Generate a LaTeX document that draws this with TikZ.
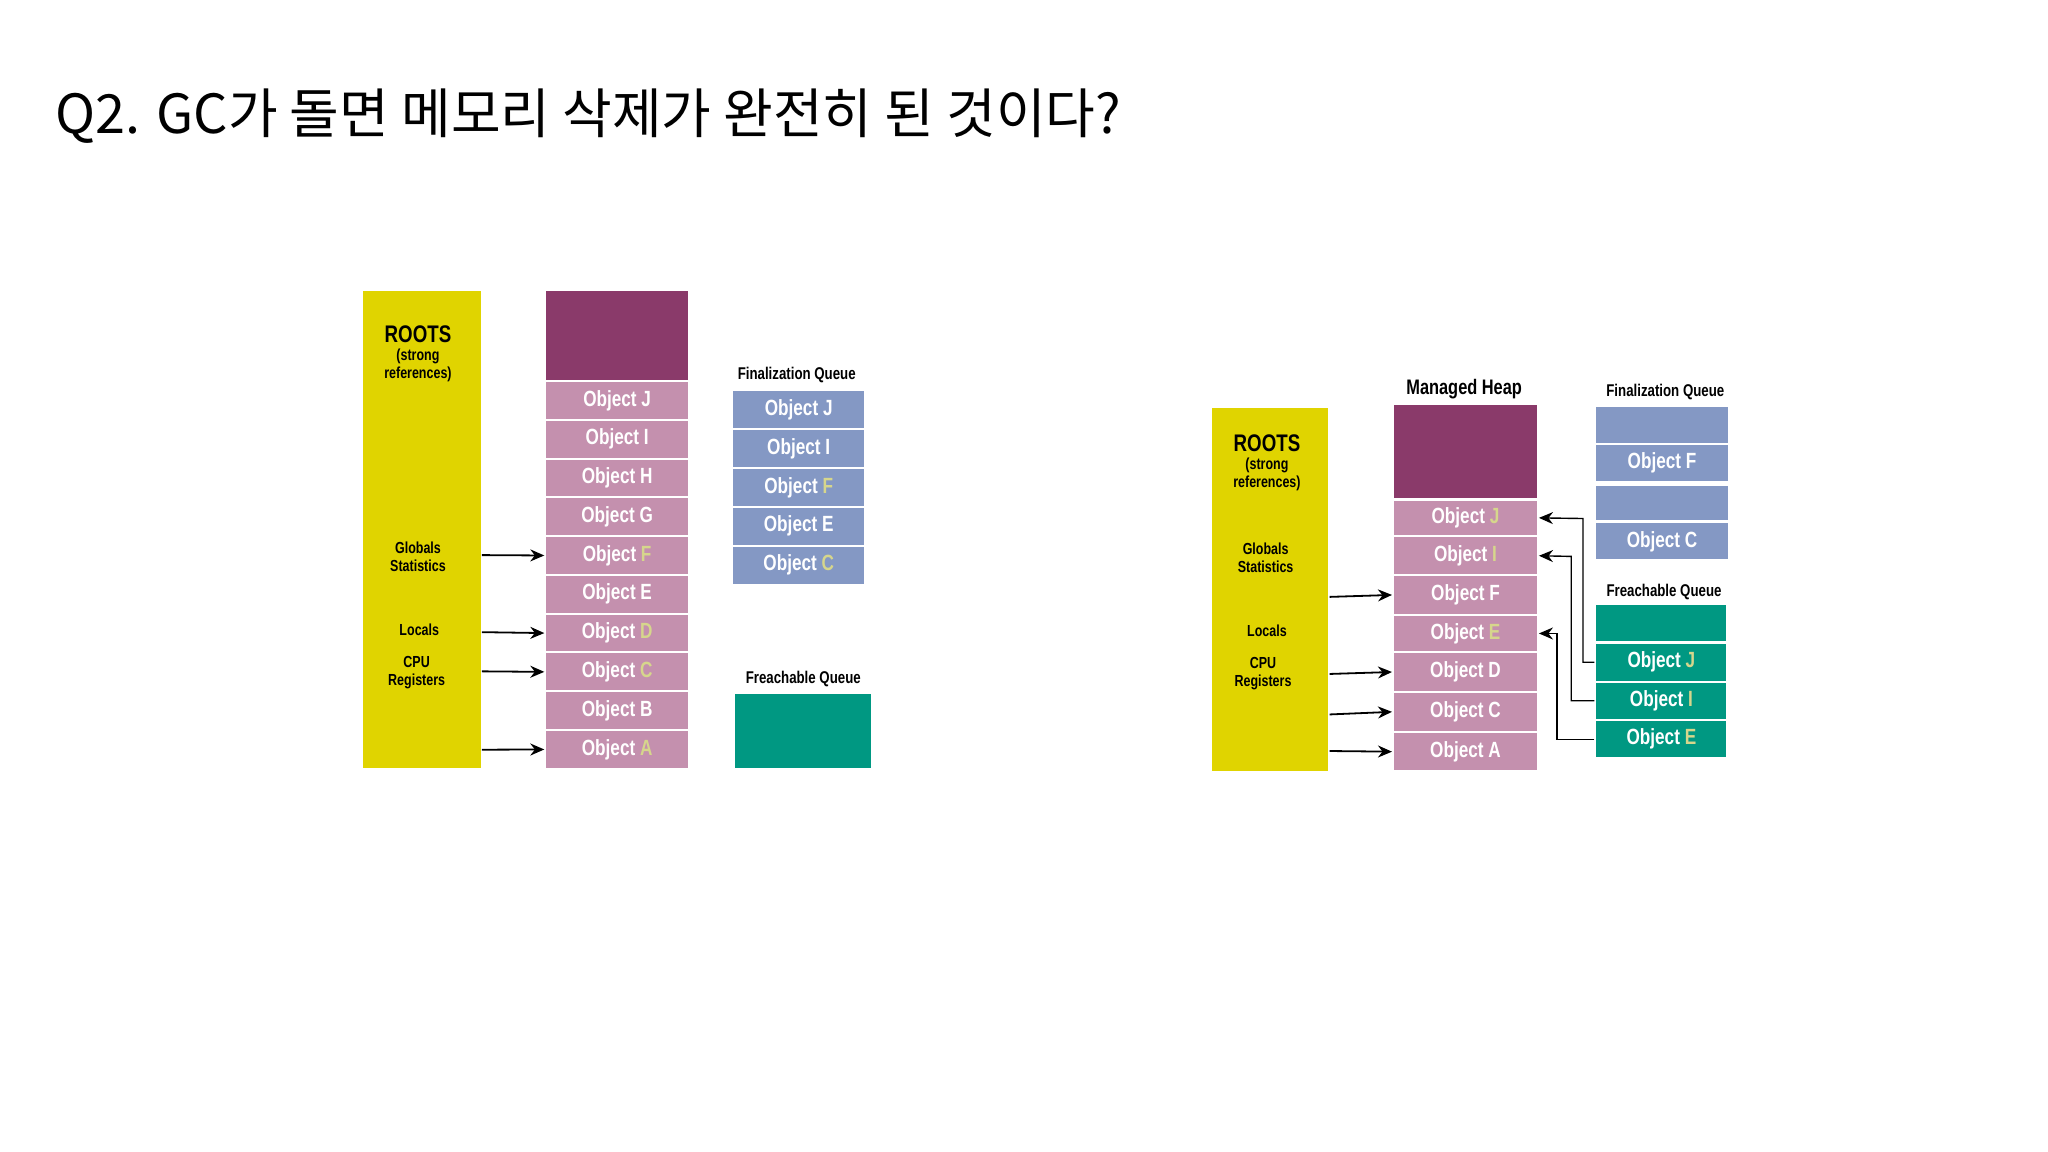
\documentclass[tikz,border=0pt]{standalone}
\usepackage{fontspec}
\newfontfamily\kr{Noto Sans CJK KR}
\newfontfamily\cond[FakeStretch=0.78]{Liberation Sans}
\usetikzlibrary{arrows.meta}
\definecolor{ry}{HTML}{E0D400}
\definecolor{hp}{HTML}{8A3A6A}
\definecolor{pk}{HTML}{C490AE}
\definecolor{bl}{HTML}{8498C4}
\definecolor{gr}{HTML}{009882}
\definecolor{hl}{HTML}{D6D68C}
\newcommand{\hi}[1]{\textcolor{hl}{#1}}
\tikzset{
 box/.style={draw=white,line width=1pt,inner sep=0pt,font=\cond\bfseries\fontsize{11}{11}\selectfont,text=white},
 lbl/.style={font=\cond\bfseries\fontsize{8.5}{9}\selectfont,inner sep=0pt},
 rt/.style={font=\cond\bfseries\fontsize{8}{9}\selectfont,inner sep=0pt,align=center},
 arr/.style={-{Stealth[length=7pt,width=6pt]},line width=0.9pt}
}
\begin{document}
\begin{tikzpicture}[x=0.653pt,y=-0.653pt]
\fill[white] (0,0) rectangle (1568,882);
\node[anchor=west,font=\kr\fontsize{27}{27}\selectfont,inner sep=0pt] (title) at (42,89) {Q2. GC가 돌면 메모리 삭제가 완전히 된 것이다?};
% ---------- left ----------
\fill[ry] (278,223) rectangle (368,588);
\node[rt,font=\cond\bfseries\fontsize{12}{12}\selectfont] (r1) at (320,256) {ROOTS};
\node[rt] (r2) at (320,280) {(strong\\references)};
\node[rt] (r3) at (320,426) {Globals\\Statistics};
\node[rt] (r4) at (321,482) {Locals};
\node[rt] (r5) at (319,515) {CPU\\Registers};
\fill[hp] (418,223) rectangle (527,291);
\foreach \t/\n [count=\i from 0] in {Object J/lJ,Object I/lI,Object H/lH,Object G/lG,Object \hi{F}/lF,Object E/lE,Object \hi{D}/lD,Object \hi{C}/lC,Object B/lB,Object \hi{A}/lA}
  \node[box,fill=pk,minimum width=110*0.653pt,minimum height=29.7*0.653pt] (\n) at (472.5,306.5+29.7*\i) {\t};
\node[lbl] (lfq) at (610,287) {Finalization Queue};
\foreach \t/\n [count=\i from 0] in {Object J/fJ,Object I/fI,Object \hi{F}/fF,Object E/fE,Object \hi{C}/fC}
  \node[box,fill=bl,minimum width=102*0.653pt,minimum height=29.8*0.653pt] (\n) at (611.5,313.5+29.8*\i) {\t};
\node[lbl] (lrq) at (615,520) {Freachable Queue};
\fill[gr] (563,531) rectangle (667,588);
\coordinate (la1) at (369,425); \coordinate (la2) at (369,484);
\coordinate (la3) at (369,514); \coordinate (la4) at (369,574);
\draw[arr] (la1) -- (lF.west);
\draw[arr] (la2) -- (lD.west);
\draw[arr] (la3) -- (lC.west);
\draw[arr] (la4) -- (lA.west);
% ---------- right ----------
\fill[ry] (928,312) rectangle (1017,590);
\node[rt,font=\cond\bfseries\fontsize{12}{12}\selectfont] (s1) at (970,339) {ROOTS};
\node[rt] (s2) at (970,363) {(strong\\references)};
\node[rt] (s3) at (969,427) {Globals\\Statistics};
\node[rt] (s4) at (970,483) {Locals};
\node[rt] (s5) at (967,516) {CPU\\Registers};
\node[lbl,font=\cond\bfseries\fontsize{10.5}{11}\selectfont] (mh) at (1121,298) {Managed Heap};
\fill[hp] (1067,310) rectangle (1177,381);
\foreach \t/\n/\y/\h in {Object \hi{J}/hJ/396.5/28,Object \hi{I}/hI/425.5/30,Object F/hF/455.5/30,Object \hi{E}/hE/485/29,Object D/hD/514.5/30,Object C/hC/545/31,Object A/hA/575.5/30}
  \node[box,fill=pk,minimum width=111*0.653pt,minimum height=\h*0.653pt] (\n) at (1122,\y) {\t};
\node[lbl] (rfq) at (1275,300) {Finalization Queue};
\foreach \t/\n/\y/\h in {{}/g1/325.5/29,Object F/gF/354.5/29,{}/g2/385/28,Object C/gC/414.5/29}
  \node[box,fill=bl,minimum width=102*0.653pt,minimum height=\h*0.653pt] (\n) at (1272.5,\y) {\t};
\node[lbl] (rrq) at (1274,453) {Freachable Queue};
\foreach \t/\n/\y/\h in {{}/q0/477/29,Object \hi{J}/qJ/507/30,Object \hi{I}/qI/536.5/29,Object \hi{E}/qE/566/29}
  \node[box,fill=gr,minimum width=101*0.653pt,minimum height=\h*0.653pt] (\n) at (1272,\y) {\t};
\coordinate (ra1) at (1018,457); \coordinate (ra2) at (1018,516);
\coordinate (ra3) at (1018,547); \coordinate (ra4) at (1018,575);
\draw[arr] (ra1) -- (hF.west);
\draw[arr] (ra2) -- (hD.west);
\draw[arr] (ra3) -- (hC.west);
\draw[arr] (ra4) -- (hA.west);
\draw[arr,line width=0.7pt] (qJ.west) -| (1212,397) -- (hJ.east);
\draw[arr,line width=0.7pt] (qI.west) -| (1203,426) -- (hI.east);
\draw[arr,line width=0.7pt] (qE.west) -| (1192,485) -- (hE.east);
\end{tikzpicture}
\end{document}
